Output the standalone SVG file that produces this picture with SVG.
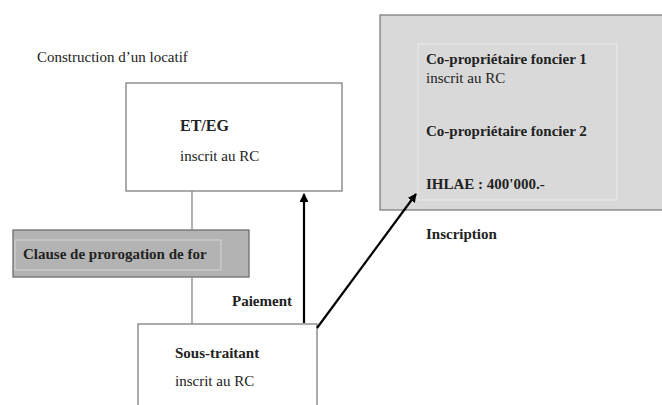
<svg xmlns="http://www.w3.org/2000/svg" width="662" height="405" viewBox="0 0 662 405">
<defs>
<marker id="ah" viewBox="0 0 10 10" refX="9" refY="5" markerWidth="4" markerHeight="4" orient="auto" markerUnits="strokeWidth">
<path d="M0,0 L10,5 L0,10 z" fill="#000"/>
</marker>
<style>
text{font-family:"Liberation Serif","Times New Roman",serif;font-size:15px;fill:#222;}
.b{font-weight:bold;}
.box{fill:#fff;stroke:#7f7f7f;stroke-width:1.3;}
.conn{stroke:#888;stroke-width:1.3;fill:none;}
.arr{stroke:#000;stroke-width:2.2;fill:none;marker-end:url(#ah);}
</style>
</defs>
<rect width="662" height="405" fill="#fff"/>
<text x="37" y="62">Construction d’un locatif</text>
<g id="eteg">
<rect class="box" x="126" y="83" width="216" height="108"/>
<text class="b" x="180" y="131" style="font-size:16px">ET/EG</text>
<text x="180" y="161">inscrit au RC</text>
</g>
<g id="clause">
<rect x="13" y="230" width="236" height="47" fill="#b3b3b3" stroke="#6f6f6f" stroke-width="1.3"/>
<rect x="15" y="240" width="206" height="30" fill="none" stroke="#d6d6d6" stroke-width="1"/>
<text class="b" x="23" y="259">Clause de prorogation de for</text>
</g>
<g id="sous-traitant">
<rect class="box" x="138" y="324" width="179" height="90"/>
<text class="b" x="175" y="358">Sous-traitant</text>
<text x="175" y="386">inscrit au RC</text>
</g>
<text class="b" x="232" y="306">Paiement</text>
<g id="proprietaires">
<rect x="380" y="15" width="290" height="195" fill="#d9d9d9" stroke="#7f7f7f" stroke-width="1.3"/>
<rect x="418" y="44" width="199" height="156" fill="none" stroke="#ececec" stroke-width="1"/>
<text class="b" x="426" y="64">Co-propriétaire foncier 1</text>
<text x="426" y="83">inscrit au RC</text>
<text class="b" x="426" y="136">Co-propriétaire foncier 2</text>
<text class="b" x="426" y="189">IHLAE : 400'000.-</text>
</g>
<text class="b" x="426" y="239">Inscription</text>
<g id="connectors">
<line class="conn" x1="192" y1="191" x2="192" y2="230"/>
<line class="conn" x1="192" y1="277" x2="192" y2="324"/>
<line class="arr" x1="304" y1="323" x2="304" y2="194"/>
<line class="arr" x1="317" y1="328" x2="416" y2="194"/>
</g>
</svg>
